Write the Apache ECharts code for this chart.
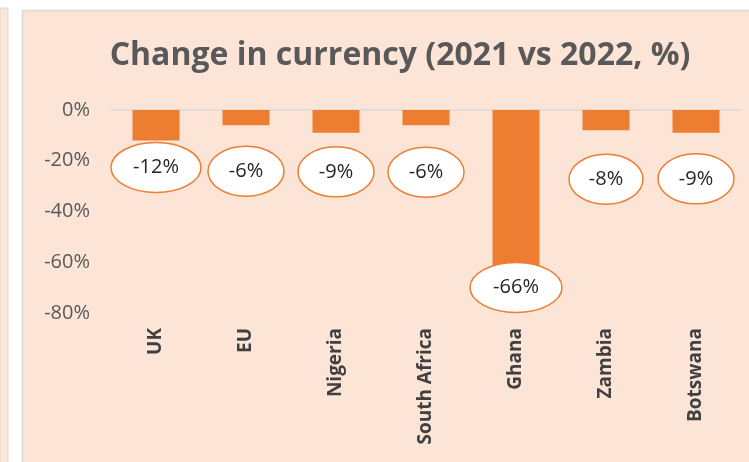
<!DOCTYPE html>
<html>
<head>
<meta charset="utf-8">
<script src="https://cdn.jsdelivr.net/npm/echarts@6/dist/echarts.min.js"></script>
<style>
  html, body { margin: 0; padding: 0; background: #ffffff; }
  #chart { width: 749px; height: 462px; }
</style>
</head>
<body>
<div id="chart"></div>
<script>
// data
const countries = ["UK", "EU", "Nigeria", "South Africa", "Ghana", "Zambia", "Botswana"];
const changePct = [-12, -6, -9, -6, -66, -8, -9];
const yTicks = [0, -20, -40, -60, -80];

// label bubble placement (px below bar end) and half-widths
const bubbleDrop = [27, 46, 39, 47, 10, 49, 46];
const bubbleRx = [45, 38, 38, 38, 46, 37, 38];

const orange = "#ED7D31";
const peach = "#FCE4D6";
const font = "'Open Sans', 'Noto Sans', sans-serif";

const chart = echarts.init(document.getElementById("chart"), null, { renderer: "canvas" });

chart.setOption({
  backgroundColor: "#ffffff",
  animation: false,
  graphic: [
    // left strip of neighbouring chart
    { type: "rect", shape: { x: 0, y: 8, width: 8, height: 460 }, style: { fill: peach, stroke: "#D9D9D9", lineWidth: 1 }, z: -10 },
    // chart area
    { type: "rect", shape: { x: 22.5, y: 10.5, width: 740, height: 460 }, style: { fill: peach, stroke: "#D9D9D9", lineWidth: 1.5 }, z: -10 }
  ],
  title: {
    text: "Change in currency (2021 vs 2022, %)",
    left: 395,
    textAlign: "center",
    top: 35,
    textStyle: { fontFamily: font, fontSize: 32, fontWeight: "bold", color: "#595959" }
  },
  grid: { left: 111, right: 8, top: 110, bottom: 149 },
  xAxis: [
    {
      type: "category",
      data: countries,
      position: "bottom",
      axisLine: { show: false },
      axisTick: { show: false },
      axisLabel: {
        rotate: 90,
        margin: 15,
        interval: 0,
        fontFamily: font,
        fontSize: 19,
        fontWeight: "bold",
        color: "#404040"
      }
    },
    {
      type: "category",
      data: countries,
      position: "top",
      axisLine: { show: true, onZero: false, lineStyle: { color: "#D9D9D9", width: 1.5 } },
      axisTick: { show: false },
      axisLabel: { show: false }
    }
  ],
  yAxis: {
    type: "value",
    min: -80,
    max: 0,
    interval: 20,
    axisLine: { show: false },
    axisTick: { show: false },
    splitLine: { show: false },
    axisLabel: {
      margin: 21,
      fontFamily: font,
      fontSize: 20,
      color: "#595959",
      formatter: v => yTicks.includes(v) ? v + "%" : ""
    }
  },
  series: [
    {
      type: "bar",
      data: changePct,
      barWidth: 47,
      itemStyle: { color: orange }
    },
    {
      type: "custom",
      data: changePct.map((v, i) => [i, v]),
      z: 5,
      renderItem: (params, api) => {
        const i = params.dataIndex;
        const v = api.value(1);
        const pt = api.coord([api.value(0), v]);
        const cy = pt[1] + bubbleDrop[i];
        return {
          type: "group",
          children: [
            {
              type: "ellipse",
              shape: { cx: pt[0], cy: cy, rx: bubbleRx[i], ry: 25 },
              style: { fill: "#ffffff", stroke: orange, lineWidth: 1.5 }
            },
            {
              type: "text",
              style: {
                text: v + "%",
                x: pt[0],
                y: cy,
                align: "center",
                verticalAlign: "middle",
                font: "20px " + font,
                fill: "#262626"
              }
            }
          ]
        };
      }
    }
  ]
});
</script>
</body>
</html>
